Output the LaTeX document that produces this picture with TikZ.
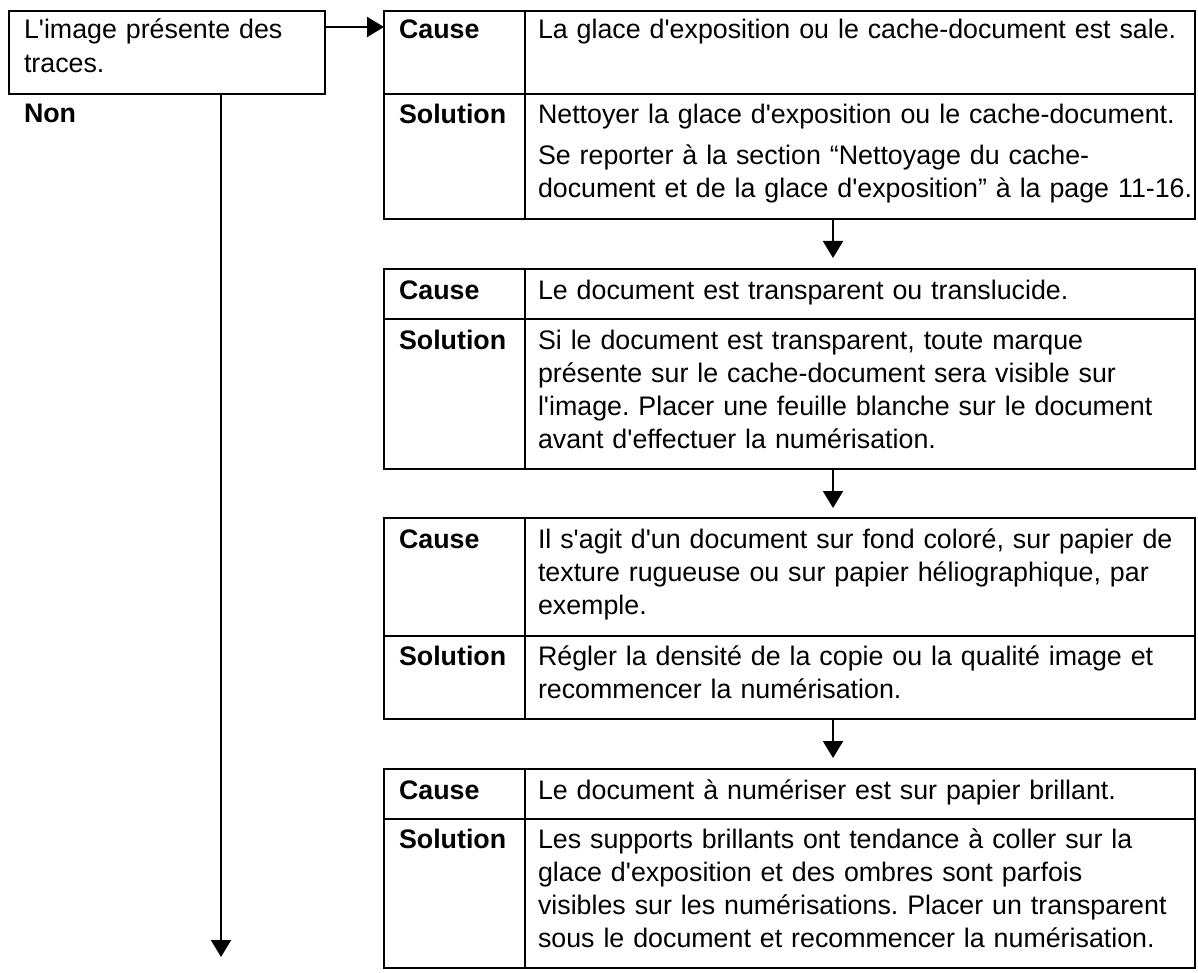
\documentclass[tikz,border=0pt]{standalone}
\usepackage{fontspec}
\setmainfont{Liberation Sans}[Ligatures=TeXOff]
\usetikzlibrary{positioning,arrows.meta}
\frenchspacing

\begin{document}
\begin{tikzpicture}[%
    x=1pt,
    y=-1pt,
    ->,
    >={Triangle[length=17pt,width=20pt]},
    line width=2pt,
    cell/.style={%
      draw,
      -,
      inner sep=0pt,
      outer sep=0pt},
    head/.style={%
      anchor=base west,
      inner sep=0pt,
      font=\fontsize{26.8}{33}\selectfont\bfseries},
    body/.style={%
      anchor=base west,
      inner sep=0pt,
      text width=700pt,
      align=left,
      font=\fontsize{26.8}{33}\selectfont}
    ]
    \useasboundingbox (0,0) rectangle (1198,973);
    % question box
    \node[cell, minimum width=316pt, minimum height=83pt, anchor=north west] (query) at (9,11) {};
    \node[body] (querytext) at ([shift={(14,28)}]query.north west) {L'image présente des\\[1pt]traces.};
    \node[head] (non) at ([shift={(14,112)}]query.north west) {Non};
    % table 1
    \node[cell, minimum width=141pt, minimum height=83pt, anchor=north west] (cause1) at (384,11) {};
    \node[cell, minimum width=670pt, minimum height=83pt, right=0pt of cause1] (causetext1) {};
    \node[cell, minimum width=141pt, minimum height=125pt, below=0pt of cause1] (sol1) {};
    \node[cell, minimum width=670pt, minimum height=125pt, right=0pt of sol1] (soltext1) {};
    % table 2
    \node[cell, minimum width=141pt, minimum height=50pt, below=50pt of sol1] (cause2) {};
    \node[cell, minimum width=670pt, minimum height=50pt, right=0pt of cause2] (causetext2) {};
    \node[cell, minimum width=141pt, minimum height=150pt, below=0pt of cause2] (sol2) {};
    \node[cell, minimum width=670pt, minimum height=150pt, right=0pt of sol2] (soltext2) {};
    % table 3
    \node[cell, minimum width=141pt, minimum height=118pt, below=49pt of sol2] (cause3) {};
    \node[cell, minimum width=670pt, minimum height=118pt, right=0pt of cause3] (causetext3) {};
    \node[cell, minimum width=141pt, minimum height=83pt, below=0pt of cause3] (sol3) {};
    \node[cell, minimum width=670pt, minimum height=83pt, right=0pt of sol3] (soltext3) {};
    % table 4
    \node[cell, minimum width=141pt, minimum height=50pt, below=50pt of sol3] (cause4) {};
    \node[cell, minimum width=670pt, minimum height=50pt, right=0pt of cause4] (causetext4) {};
    \node[cell, minimum width=141pt, minimum height=149pt, below=0pt of cause4] (sol4) {};
    \node[cell, minimum width=670pt, minimum height=149pt, right=0pt of sol4] (soltext4) {};
    % cell texts
    \node[head] (cl1) at ([shift={(14,28)}]cause1.north west) {Cause};
    \node[body] (ct1) at ([shift={(12,28)}]causetext1.north west) {La glace d'exposition ou le cache-document est sale.};
    \node[head] (sl1) at ([shift={(14,30)}]sol1.north west) {Solution};
    \node[body] (st1) at ([shift={(12,30)}]soltext1.north west) {Nettoyer la glace d'exposition ou le cache-document.\\[8pt]
      Se reporter à la section “Nettoyage du cache-\\document et de la glace d'exposition” à la page 11-16.};
    \node[head] (cl2) at ([shift={(14,30)}]cause2.north west) {Cause};
    \node[body] (ct2) at ([shift={(12,30)}]causetext2.north west) {Le document est transparent ou translucide.};
    \node[head] (sl2) at ([shift={(14,30)}]sol2.north west) {Solution};
    \node[body] (st2) at ([shift={(12,30)}]soltext2.north west) {Si le document est transparent, toute marque\\
      présente sur le cache-document sera visible sur\\l'image. Placer une feuille blanche sur le document\\
      avant d'effectuer la numérisation.};
    \node[head] (cl3) at ([shift={(14,30)}]cause3.north west) {Cause};
    \node[body] (ct3) at ([shift={(12,30)}]causetext3.north west) {Il s'agit d'un document sur fond coloré, sur papier de\\
      texture rugueuse ou sur papier héliographique, par\\exemple.};
    \node[head] (sl3) at ([shift={(14,29)}]sol3.north west) {Solution};
    \node[body] (st3) at ([shift={(12,29)}]soltext3.north west) {Régler la densité de la copie ou la qualité image et\\
      recommencer la numérisation.};
    \node[head] (cl4) at ([shift={(14,30)}]cause4.north west) {Cause};
    \node[body] (ct4) at ([shift={(12,30)}]causetext4.north west) {Le document à numériser est sur papier brillant.};
    \node[head] (sl4) at ([shift={(14,29)}]sol4.north west) {Solution};
    \node[body] (st4) at ([shift={(12,29)}]soltext4.north west) {Les supports brillants ont tendance à coller sur la\\
      glace d'exposition et des ombres sont parfois\\visibles sur les numérisations. Placer un transparent\\
      sous le document et recommencer la numérisation.};
    % connectors
    \coordinate (down) at (833,0);
    \coordinate (nonend) at (221,957);
    \draw ([yshift=-16pt]query.north east) -- ([yshift=-16pt]cause1.north west);
    \draw (query.south -| nonend) -- (nonend);
    \draw[shorten >=11pt] (soltext1.south -| down) -- (causetext2.north -| down);
    \draw[shorten >=10pt] (soltext2.south -| down) -- (causetext3.north -| down);
    \draw[shorten >=11pt] (soltext3.south -| down) -- (causetext4.north -| down);
\end{tikzpicture}
\end{document}
